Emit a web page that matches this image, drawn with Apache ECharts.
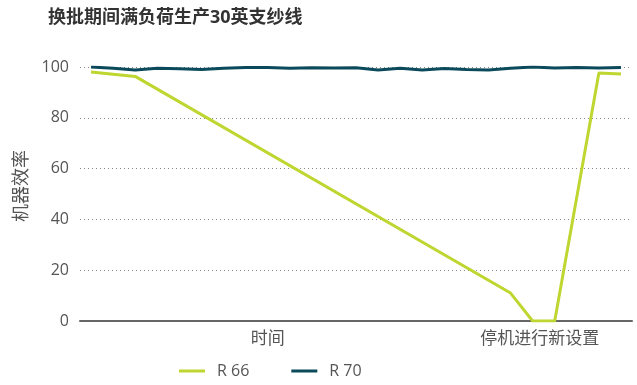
<!DOCTYPE html>
<html><head><meta charset="utf-8">
<script src="https://cdn.jsdelivr.net/npm/echarts@6/dist/echarts.min.js"></script>
<style>html,body{margin:0;padding:0;background:#fff}#c{width:637px;height:385px}</style>
</head><body><div id="c"></div>
<script>
const title = '换批期间满负荷生产30英支纱线';
const yAxisName = '机器效率';
const categories = ['', '', '', '', '', '', '', '', '时间', '', '', '', '', '', '', '', '', '', '', '', '停机进行新设置', '', '', '', ''];
const r66 = [98, null, 96.3, null, null, null, null, null, null, null, null, null, null, null, null, null, null, null, null, 11, 0, 0, null, 97.6, 97.2];
const r70 = [100, 99.5, 98.8, 99.5, 99.3, 99, 99.5, 99.8, 99.8, 99.5, 99.7, 99.6, 99.7, 98.8, 99.5, 98.8, 99.4, 99, 98.8, 99.5, 100, 99.6, 99.8, 99.6, 99.8];
const yTicks = [0, 20, 40, 60, 80, 100];

const font = '"Open Sans", "Noto Sans CJK SC", sans-serif';
const chart = echarts.init(document.getElementById('c'));
chart.setOption({
  animation: false,
  textStyle: { fontFamily: font },
  title: {
    text: title, left: 43, top: 4,
    textStyle: { fontFamily: font, fontSize: 18, fontWeight: 'bold', color: '#333' }
  },
  grid: { left: 80, right: 5, top: 67, bottom: 64 },
  legend: {
    bottom: 1, left: 174, itemWidth: 26, itemHeight: 3, itemGap: 42,
    icon: 'rect',
    textStyle: { fontFamily: font, fontSize: 16, color: '#555', padding: [0, 0, 0, 7] },
    data: ['R 66', 'R 70']
  },
  xAxis: {
    type: 'category', data: categories, boundaryGap: true,
    axisLine: { lineStyle: { color: '#666', width: 2 } },
    axisTick: { show: false },
    axisLabel: {
      interval: 0, margin: 10, color: '#555', fontSize: 17, fontFamily: font,
      formatter: function (v) { return v === '停机进行新设置' ? '{l|' + v + '}' : v; },
      rich: { l: { fontSize: 17, color: '#555', fontFamily: font, padding: [0, 0, 0, 14] } }
    }
  },
  yAxis: {
    type: 'value', min: 0, max: 100, interval: 20,
    name: yAxisName, nameLocation: 'middle', nameGap: 47, nameRotate: 90,
    nameTextStyle: { fontSize: 18, color: '#555', fontFamily: font, padding: [0, 0, 0, 16] },
    axisLine: { show: false }, axisTick: { show: false },
    axisLabel: { color: '#555', fontSize: 16, margin: 11, fontFamily: font,
      formatter: function (v) { return yTicks.indexOf(v) >= 0 ? String(v) : ''; } },
    splitLine: { lineStyle: { color: '#888', type: [1, 3], width: 1 } }
  },
  series: [
    { name: 'R 66', type: 'line', data: r66, connectNulls: true, symbol: 'none',
      itemStyle: { color: '#bfd630' }, lineStyle: { color: '#bfd630', width: 3 } },
    { name: 'R 70', type: 'line', data: r70, symbol: 'none',
      itemStyle: { color: '#0b4a5b' }, lineStyle: { color: '#0b4a5b', width: 3 } }
  ]
});
</script></body></html>
